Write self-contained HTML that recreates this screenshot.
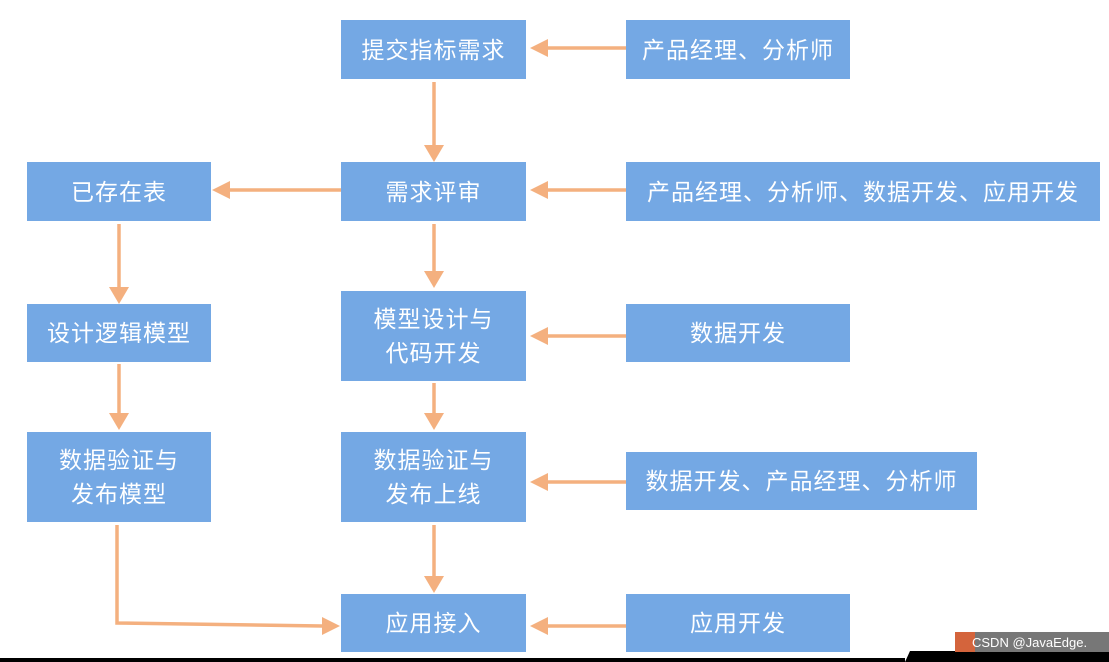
<!DOCTYPE html>
<html><head><meta charset="utf-8"><style>
body{margin:0;width:1109px;height:662px;background:#fff;position:relative;overflow:hidden;font-family:"Liberation Sans","Noto Sans CJK SC",sans-serif}
.b{position:absolute;background:#74a8e4;color:#fff;font-size:23px;display:flex;align-items:center;justify-content:center;text-align:center;line-height:34px;letter-spacing:1px}
svg{position:absolute;left:0;top:0}
</style></head><body>
<svg width="1109" height="662">
<defs><marker id="a" markerWidth="8" markerHeight="8" refX="7" refY="4" orient="auto" markerUnits="userSpaceOnUse"><path d="M0,0 L8,4 L0,8z" fill="#f4b07f" transform="scale(2.4) translate(-4.5,-2.35)"/></marker></defs>
<g stroke="#f4b07f" stroke-width="3.5" fill="none">
<line x1="626" y1="48" x2="547" y2="48"/>
<line x1="434" y1="82" x2="434" y2="145"/>
<line x1="626" y1="190" x2="547" y2="190"/>
<line x1="341" y1="190" x2="230" y2="190"/>
<line x1="434" y1="224" x2="434" y2="272"/>
<line x1="119" y1="224" x2="119" y2="288"/>
<line x1="626" y1="336" x2="547" y2="336"/>
<line x1="434" y1="383" x2="434" y2="414"/>
<line x1="119" y1="364" x2="119" y2="414"/>
<line x1="626" y1="482" x2="547" y2="482"/>
<line x1="434" y1="525" x2="434" y2="576"/>
<polyline points="117,525 117,623 322,626"/>
<line x1="626" y1="626" x2="547" y2="626"/>
</g>
<g fill="#f4b07f">
<path d="M530,48 L548,39 L548,57z"/>
<path d="M434,162 L424,145 L444,145z"/>
<path d="M530,190 L548,181 L548,199z"/>
<path d="M212,190 L230,181 L230,199z"/>
<path d="M434,288 L424,271 L444,271z"/>
<path d="M119,304 L109,287 L129,287z"/>
<path d="M530,336 L548,327 L548,345z"/>
<path d="M434,430 L424,413 L444,413z"/>
<path d="M119,430 L109,413 L129,413z"/>
<path d="M530,482 L548,473 L548,491z"/>
<path d="M434,593 L424,576 L444,576z"/>
<path d="M340,626 L322,617 L322,635z"/>
<path d="M530,626 L548,617 L548,635z"/>
</g>
<rect x="0" y="658" width="905" height="4" fill="#000"/>
<path d="M905,662 L910,651 L1109,651 L1109,662z" fill="#000"/>
<rect x="955" y="632" width="20" height="20" fill="#d4643c"/>
<rect x="975" y="632" width="134" height="20" fill="#777"/>
<text x="972" y="647" fill="#fff" font-size="13" font-family="Liberation Sans,sans-serif">CSDN @JavaEdge.</text>
</svg>
<div class="b" style="left:341px;top:20px;width:185px;height:59px">提交指标需求</div>
<div class="b" style="left:626px;top:20px;width:224px;height:59px">产品经理、分析师</div>
<div class="b" style="left:27px;top:162px;width:184px;height:59px">已存在表</div>
<div class="b" style="left:341px;top:162px;width:185px;height:59px">需求评审</div>
<div class="b" style="left:626px;top:162px;width:474px;height:59px">产品经理、分析师、数据开发、应用开发</div>
<div class="b" style="left:27px;top:304px;width:184px;height:58px">设计逻辑模型</div>
<div class="b" style="left:341px;top:291px;width:185px;height:90px">模型设计与<br>代码开发</div>
<div class="b" style="left:626px;top:304px;width:224px;height:58px">数据开发</div>
<div class="b" style="left:27px;top:432px;width:184px;height:90px">数据验证与<br>发布模型</div>
<div class="b" style="left:341px;top:432px;width:185px;height:90px">数据验证与<br>发布上线</div>
<div class="b" style="left:626px;top:452px;width:351px;height:58px">数据开发、产品经理、分析师</div>
<div class="b" style="left:341px;top:594px;width:185px;height:58px">应用接入</div>
<div class="b" style="left:626px;top:594px;width:224px;height:58px">应用开发</div>
</body></html>
